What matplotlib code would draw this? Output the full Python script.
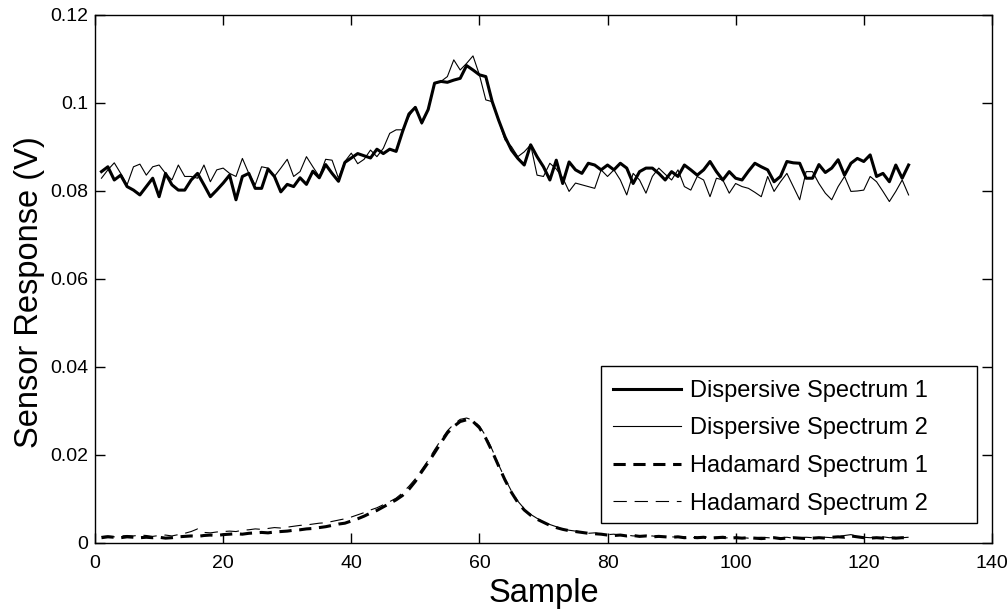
import numpy as np
import matplotlib
matplotlib.use("Agg")
import matplotlib.pyplot as plt
from matplotlib.patches import Rectangle

plt.rcParams['font.family'] = ['Liberation Sans', 'DejaVu Sans']

# Sample index 1..127
samples = np.arange(1, 128)

# Dispersive spectra (V)
disp1 = [0.0844, 0.0855, 0.0825, 0.0836, 0.0810, 0.0802, 0.0791, 0.0810, 0.0829, 0.0787,
         0.0840, 0.0814, 0.0802, 0.0802, 0.0825, 0.0840, 0.0814, 0.0787, 0.0802, 0.0818,
         0.0836, 0.0780, 0.0833, 0.0840, 0.0806, 0.0806, 0.0850, 0.0833, 0.0798, 0.0815,
         0.0810, 0.0830, 0.0815, 0.0845, 0.0830, 0.0860, 0.0840, 0.0822, 0.0865, 0.0875,
         0.0885, 0.0880, 0.0875, 0.0895, 0.0885, 0.0895, 0.0890, 0.0935, 0.0975, 0.0990,
         0.0955, 0.0985, 0.1045, 0.1049, 0.1047, 0.1052, 0.1056, 0.1085, 0.1075, 0.1064,
         0.1060, 0.1003, 0.0961, 0.0923, 0.0893, 0.0874, 0.0859, 0.0905, 0.0878, 0.0855,
         0.0825, 0.0870, 0.0817, 0.0866, 0.0848, 0.0840, 0.0863, 0.0859, 0.0848, 0.0859,
         0.0848, 0.0863, 0.0852, 0.0817, 0.0844, 0.0852, 0.0852, 0.0840, 0.0825, 0.0844,
         0.0833, 0.0859, 0.0848, 0.0836, 0.0848, 0.0867, 0.0844, 0.0825, 0.0844, 0.0829,
         0.0825, 0.0845, 0.0863, 0.0855, 0.0848, 0.0821, 0.0833, 0.0867, 0.0864, 0.0863,
         0.0829, 0.0829, 0.0860, 0.0842, 0.0852, 0.0871, 0.0836, 0.0863, 0.0874, 0.0867,
         0.0882, 0.0833, 0.0840, 0.0821, 0.0859, 0.0829, 0.0859]

disp2 = [0.0829, 0.0848, 0.0864, 0.0840, 0.0814, 0.0855, 0.0861, 0.0836, 0.0855, 0.0859,
         0.0840, 0.0825, 0.0859, 0.0833, 0.0833, 0.0829, 0.0859, 0.0821, 0.0848, 0.0852,
         0.0840, 0.0833, 0.0874, 0.0840, 0.0814, 0.0855, 0.0852, 0.0833, 0.0852, 0.0872,
         0.0833, 0.0844, 0.0878, 0.0855, 0.0833, 0.0872, 0.0870, 0.0829, 0.0867, 0.0886,
         0.0862, 0.0872, 0.0893, 0.0878, 0.0897, 0.0931, 0.0939, 0.0939, 0.0969, 0.0992,
         0.0952, 0.0985, 0.1045, 0.1049, 0.1060, 0.1098, 0.1075, 0.1090, 0.1107, 0.1064,
         0.1007, 0.1003, 0.0960, 0.0916, 0.0901, 0.0878, 0.0889, 0.0905, 0.0836, 0.0833,
         0.0863, 0.0850, 0.0830, 0.0799, 0.0818, 0.0814, 0.0810, 0.0806, 0.0848, 0.0833,
         0.0848, 0.0825, 0.0791, 0.0840, 0.0825, 0.0795, 0.0833, 0.0852, 0.0838, 0.0825,
         0.0848, 0.0810, 0.0802, 0.0833, 0.0825, 0.0787, 0.0829, 0.0825, 0.0795, 0.0817,
         0.0810, 0.0806, 0.0797, 0.0787, 0.0833, 0.0799, 0.0821, 0.0840, 0.0810, 0.0780,
         0.0844, 0.0844, 0.0817, 0.0795, 0.0780, 0.0810, 0.0833, 0.0799, 0.0800, 0.0802,
         0.0833, 0.0821, 0.0799, 0.0776, 0.0799, 0.0825, 0.0791]

# Hadamard spectra (V)
had1 = [0.0012, 0.0014, 0.0013, 0.0012, 0.0014, 0.0013, 0.0012, 0.0013, 0.0012, 0.0013,
        0.0011, 0.0012, 0.0014, 0.0015, 0.0016, 0.0015, 0.0017, 0.0018, 0.0017, 0.0019,
        0.0020, 0.0021, 0.0020, 0.0022, 0.0023, 0.0024, 0.0023, 0.0025, 0.0026, 0.0027,
        0.0029, 0.0030, 0.0032, 0.0033, 0.0035, 0.0037, 0.0040, 0.0043, 0.0045, 0.0050,
        0.0055, 0.0061, 0.0068, 0.0074, 0.0082, 0.0090, 0.0098, 0.0108, 0.0122, 0.0140,
        0.0162, 0.0183, 0.0205, 0.0228, 0.0250, 0.0265, 0.0276, 0.0280, 0.0276, 0.0262,
        0.0238, 0.0208, 0.0175, 0.0143, 0.0115, 0.0092, 0.0075, 0.0063, 0.0054, 0.0047,
        0.0040, 0.0035, 0.0031, 0.0028, 0.0026, 0.0024, 0.0022, 0.0021, 0.0020, 0.0018,
        0.0017, 0.0018, 0.0016, 0.0017, 0.0015, 0.0016, 0.0014, 0.0015, 0.0014, 0.0013,
        0.0014, 0.0012, 0.0013, 0.0012, 0.0013, 0.0011, 0.0012, 0.0013, 0.0011, 0.0012,
        0.0011, 0.0012, 0.0011, 0.0010, 0.0011, 0.0012, 0.0010, 0.0011, 0.0012, 0.0011,
        0.0010, 0.0011, 0.0012, 0.0011, 0.0013, 0.0014, 0.0013, 0.0016, 0.0014, 0.0012,
        0.0011, 0.0012, 0.0011, 0.0012, 0.0011, 0.0012, 0.0011]

had2 = [0.0015, 0.0016, 0.0014, 0.0016, 0.0017, 0.0016, 0.0018, 0.0017, 0.0015, 0.0017,
        0.0018, 0.0016, 0.0019, 0.0022, 0.0026, 0.0032, 0.0024, 0.0023, 0.0025, 0.0026,
        0.0027, 0.0026, 0.0029, 0.0030, 0.0032, 0.0031, 0.0033, 0.0035, 0.0034, 0.0036,
        0.0038, 0.0040, 0.0041, 0.0043, 0.0045, 0.0046, 0.0049, 0.0052, 0.0055, 0.0059,
        0.0064, 0.0069, 0.0075, 0.0080, 0.0087, 0.0094, 0.0102, 0.0114, 0.0129, 0.0146,
        0.0167, 0.0188, 0.0212, 0.0234, 0.0255, 0.0270, 0.0281, 0.0284, 0.0279, 0.0266,
        0.0243, 0.0212, 0.0178, 0.0146, 0.0118, 0.0095, 0.0078, 0.0065, 0.0056, 0.0048,
        0.0042, 0.0037, 0.0032, 0.0029, 0.0027, 0.0025, 0.0022, 0.0023, 0.0020, 0.0019,
        0.0020, 0.0017, 0.0018, 0.0016, 0.0017, 0.0015, 0.0016, 0.0014, 0.0015, 0.0014,
        0.0013, 0.0014, 0.0012, 0.0013, 0.0014, 0.0012, 0.0013, 0.0011, 0.0012, 0.0013,
        0.0012, 0.0011, 0.0012, 0.0013, 0.0012, 0.0011, 0.0012, 0.0013, 0.0011, 0.0012,
        0.0013, 0.0012, 0.0011, 0.0013, 0.0012, 0.0015, 0.0017, 0.0019, 0.0015, 0.0013,
        0.0012, 0.0013, 0.0014, 0.0012, 0.0013, 0.0012, 0.0013]

labels = ["Dispersive Spectrum 1", "Dispersive Spectrum 2",
          "Hadamard Spectrum 1", "Hadamard Spectrum 2"]

fig = plt.figure(figsize=(10.08, 6.09), dpi=100)
ax = fig.add_axes([0.0943, 0.1084, 0.8897, 0.8670])

ax.plot(samples, disp1, color='black', linestyle='-', linewidth=2.2, label=labels[0])
ax.plot(samples, disp2, color='black', linestyle='-', linewidth=0.8, label=labels[1])
ax.plot(samples, had1, color='black', linestyle=(0, (4, 2.5)), linewidth=2.2, label=labels[2])
ax.plot(samples, had2, color='black', linestyle=(0, (12, 7)), linewidth=0.8, label=labels[3])

ax.set_xlim(0, 140)
ax.set_ylim(0, 0.12)
ax.set_xticks(np.arange(0, 141, 20))
ax.set_yticks([0, 0.02, 0.04, 0.06, 0.08, 0.1, 0.12])
ax.set_yticklabels(["0", "0.02", "0.04", "0.06", "0.08", "0.1", "0.12"])
ax.tick_params(direction='in', top=True, right=True, length=7, width=1,
               labelsize=14)
ax.tick_params(axis='x', pad=9)
ax.tick_params(axis='y', pad=5)
for s in ax.spines.values():
    s.set_linewidth(1)

ax.set_xlabel("Sample", fontsize=23.5, labelpad=4)
ax.set_ylabel("Sensor Response (V)", fontsize=23.5)
ax.yaxis.set_label_coords(-0.056, 0.475)

# legend box drawn separately (MATLAB style, wide right margin)
ax.add_patch(Rectangle((0.564, 0.038), 0.419, 0.297, transform=ax.transAxes,
                       facecolor='white', edgecolor='black', linewidth=1, zorder=4))
leg = ax.legend(loc='upper left', bbox_to_anchor=(0.5775, 0.309), fontsize=17,
                frameon=False, handlelength=2.9, handletextpad=0.35,
                labelspacing=0.66, borderpad=0, borderaxespad=0)
leg.set_zorder(5)

fig.savefig("out.png", dpi=100)
